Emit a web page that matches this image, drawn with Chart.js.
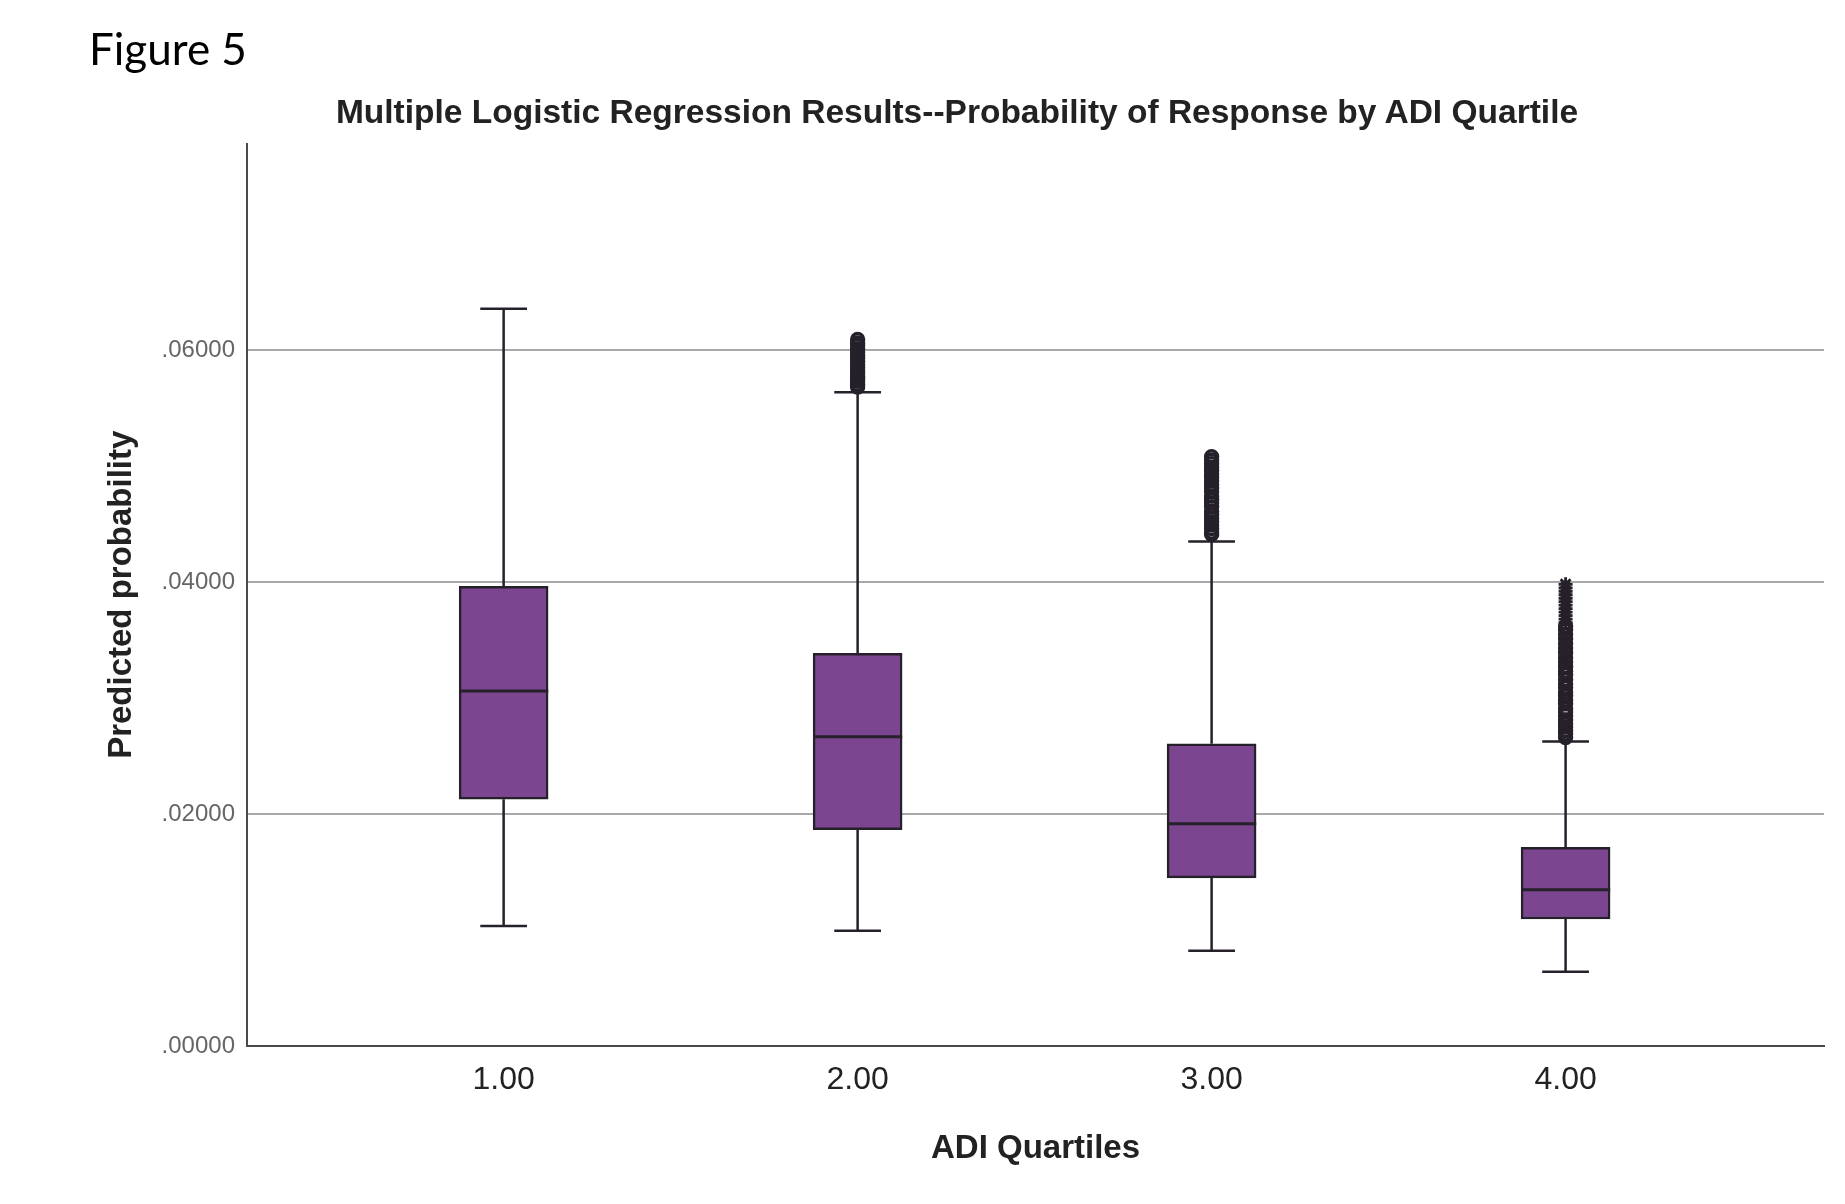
<!DOCTYPE html>
<html>
<head>
<meta charset="utf-8">
<script src="https://cdn.jsdelivr.net/npm/chart.js@4.4.0/dist/chart.umd.min.js"></script>
<style>
html, body { margin: 0; padding: 0; background: #fff; overflow: hidden; }
#wrap { position: relative; width: 1845px; height: 1204px; }
#fig { position: absolute; left: 89px; top: 26px; font-family: Lato, 'Open Sans', sans-serif; font-size: 44px; line-height: 1; color: #000; }
#ttl { position: absolute; left: 257px; width: 1400px; top: 95px; text-align: center; font-family: 'Liberation Sans', Arial, sans-serif; font-weight: bold; font-size: 33.5px; line-height: 1; color: #222; }
canvas { position: absolute; left: 0; top: 0; }
</style>
</head>
<body>
<div id="wrap">
<canvas id="myChart" width="1845" height="1204"></canvas>
<div id="fig">Figure 5</div>
<div id="ttl">Multiple Logistic Regression Results--Probability of Response by ADI Quartile</div>
</div>
<script>
// ADI quartile groups and box plot stats
let quartiles = [1, 2, 3, 4];
let whiskLow = [0.01034, 0.00993, 0.00821, 0.00639];
let q1 = [0.02128, 0.01865, 0.01449, 0.01095];
let median = [0.03061, 0.02666, 0.01916, 0.01348];
let q3 = [0.03963, 0.03385, 0.02605, 0.01713];
let whiskHigh = [0.06355, 0.05635, 0.04348, 0.02625];

// outliers (circles) and extremes (stars)
let outliers2 = [0.0568, 0.0570, 0.0573, 0.0575, 0.0577, 0.0580, 0.0582, 0.0585, 0.0587, 0.0590, 0.0593, 0.0595, 0.0598, 0.0601, 0.0604, 0.0606, 0.0609];
let outliers3 = [0.0441, 0.0443, 0.0446, 0.0449, 0.0452, 0.0455, 0.0458, 0.0461, 0.0465, 0.0468, 0.0471, 0.0474, 0.0478, 0.0481, 0.0484, 0.0487, 0.0490, 0.0493, 0.0496, 0.0499, 0.0502, 0.0505, 0.0508];
let outliers4 = [0.0266, 0.0269, 0.0272, 0.0275, 0.0278, 0.0281, 0.0285, 0.0288, 0.0291, 0.0295, 0.0298, 0.0302, 0.0305, 0.0309, 0.0312, 0.0316, 0.0320, 0.0323, 0.0327, 0.0331, 0.0335, 0.0339, 0.0343, 0.0347, 0.0351, 0.0355, 0.0359, 0.0362];
let extremes4 = [0.0365, 0.0368, 0.0371, 0.0374, 0.0377, 0.0380, 0.0383, 0.0386, 0.0389, 0.0392, 0.0395, 0.0398];

let yTicks = [0, 0.02, 0.04, 0.06];
let xTicks = [1, 2, 3, 4];

const boxHalf = 0.126;
const capHalf = 0.066;
const lineCol = '#26202a';

let whiskerPts = [];
let medianPts = [];
quartiles.forEach((x, i) => {
    whiskerPts.push({x: x, y: q3[i]}, {x: x, y: whiskHigh[i]}, {x: x, y: null});
    whiskerPts.push({x: x, y: whiskLow[i]}, {x: x, y: q1[i]}, {x: x, y: null});
    whiskerPts.push({x: x - capHalf, y: whiskHigh[i]}, {x: x + capHalf, y: whiskHigh[i]}, {x: x, y: null});
    whiskerPts.push({x: x - capHalf, y: whiskLow[i]}, {x: x + capHalf, y: whiskLow[i]}, {x: x, y: null});
    medianPts.push({x: x - boxHalf, y: median[i]}, {x: x + boxHalf, y: median[i]}, {x: x, y: null});
});

let outlierPts = [];
outliers2.forEach(v => outlierPts.push({x: 2, y: v}));
outliers3.forEach(v => outlierPts.push({x: 3, y: v}));
outliers4.forEach(v => outlierPts.push({x: 4, y: v}));
let extremePts = extremes4.map(v => ({x: 4, y: v}));

let ctx = document.getElementById('myChart').getContext('2d');
let chart = new Chart(ctx, {
    type: 'bar',
    data: {
        datasets: [
            {
                type: 'bar',
                data: quartiles.map((x, i) => ({x: x, y: [q1[i], q3[i]]})),
                backgroundColor: '#7b4590',
                borderColor: lineCol,
                borderWidth: 2.5,
                borderSkipped: false,
                barThickness: 89,
                order: 3
            },
            {
                type: 'line',
                data: whiskerPts,
                borderColor: lineCol,
                borderWidth: 2.5,
                pointRadius: 0,
                spanGaps: false,
                order: 4
            },
            {
                type: 'line',
                data: medianPts,
                borderColor: lineCol,
                borderWidth: 3,
                pointRadius: 0,
                spanGaps: false,
                order: 1
            },
            {
                type: 'line',
                data: outlierPts,
                showLine: false,
                pointStyle: 'circle',
                pointRadius: 6,
                pointBorderWidth: 3.4,
                pointBackgroundColor: 'rgba(0,0,0,0)',
                pointBorderColor: lineCol,
                order: 2
            },
            {
                type: 'line',
                data: extremePts,
                showLine: false,
                pointStyle: 'star',
                pointRadius: 7,
                pointBorderWidth: 2.8,
                pointBorderColor: lineCol,
                order: 2
            }
        ]
    },
    options: {
        responsive: false,
        animation: false,
        layout: { padding: { top: 143.5, right: 21, bottom: 0, left: 0 } },
        plugins: {
            legend: { display: false },
            tooltip: { enabled: false }
        },
        scales: {
            x: {
                type: 'linear',
                offset: false,
                min: 0.275,
                max: 4.73,
                afterBuildTicks: (scale) => { scale.ticks = xTicks.map(v => ({value: v})); },
                afterFit: (scale) => { scale.height = 158; },
                grid: { display: false, drawTicks: false, offset: false },
                border: { display: true, color: '#4a4a4a', width: 2 },
                ticks: {
                    padding: 15,
                    color: '#222',
                    font: { family: 'Liberation Sans', size: 32 },
                    callback: (v) => Number(v).toFixed(2)
                },
                title: {
                    display: true,
                    text: 'ADI Quartiles',
                    color: '#222',
                    font: { family: 'Liberation Sans', size: 33, weight: 'bold' },
                    padding: { top: 0, bottom: 35 }
                }
            },
            y: {
                type: 'linear',
                min: 0,
                max: 0.0778,
                afterBuildTicks: (scale) => { scale.ticks = yTicks.map(v => ({value: v})); },
                afterFit: (scale) => { scale.width = 247; },
                grid: { color: '#a9a9a9', lineWidth: 2, drawTicks: false },
                border: { display: true, color: '#4a4a4a', width: 2 },
                ticks: {
                    padding: 12,
                    color: '#666',
                    font: { family: 'Liberation Sans', size: 24 },
                    callback: (v) => Number(v).toFixed(5).replace(/^0/, '')
                },
                title: {
                    display: true,
                    text: 'Predicted probability',
                    color: '#222',
                    font: { family: 'Liberation Sans', size: 33, weight: 'bold' },
                    padding: { top: 102, bottom: 0 }
                }
            }
        }
    }
});
</script>
</body>
</html>
